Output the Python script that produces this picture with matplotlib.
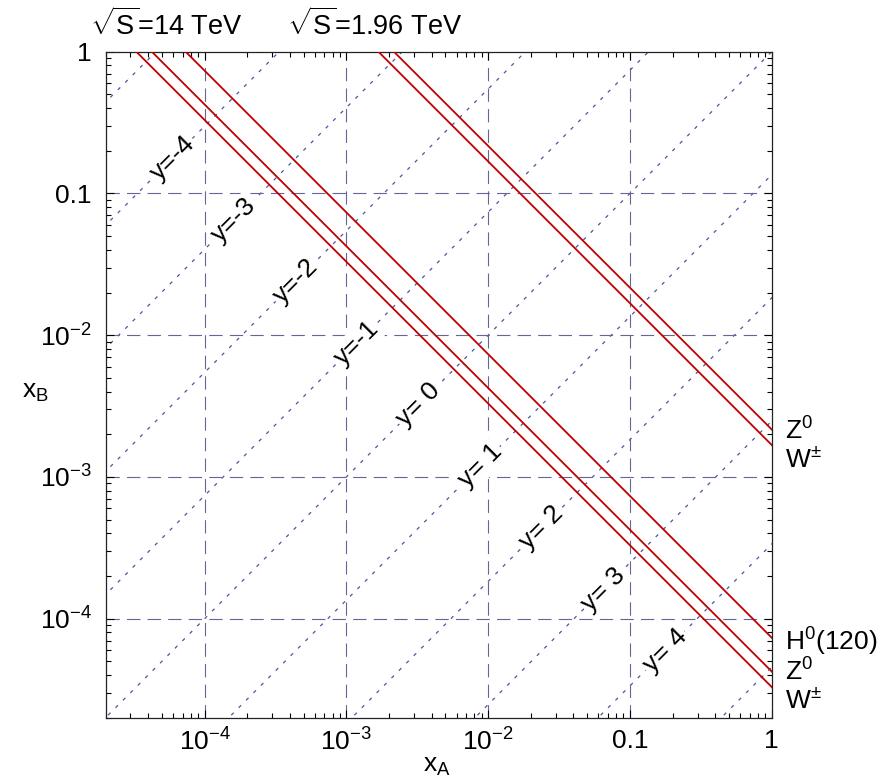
import numpy as np
import matplotlib.pyplot as plt
from matplotlib.ticker import FixedLocator, FixedFormatter, LogLocator, NullFormatter

plt.rcParams['font.family'] = ['Liberation Sans', 'DejaVu Sans']
plt.rcParams['mathtext.fontset'] = 'custom'
plt.rcParams['mathtext.rm'] = 'Liberation Sans'
plt.rcParams['mathtext.it'] = 'Liberation Sans:italic'
plt.rcParams['mathtext.bf'] = 'Liberation Sans:bold'

# collider energies (TeV) and boson masses (GeV)
lhc_sqrt_s = 14.0
tev_sqrt_s = 1.96
m_w = 80.4
m_z = 91.19
m_h = 120.0

# lines of constant rapidity y, x_A / x_B = exp(2y)
rapidities = np.arange(-6, 7)
labelled_y = [-4, -3, -2, -1, 0, 1, 2, 3, 4]
label_tau = 1.05e-5   # labels sit along x_A * x_B = label_tau

x_lo, x_hi = 2e-5, 1.0
grid_at = [1e-4, 1e-3, 1e-2, 1e-1]
tick_vals = [1e-4, 1e-3, 1e-2, 0.1, 1]
tick_text = ['$10^{-4}$', '$10^{-3}$', '$10^{-2}$', '0.1', '1']

red = '#c00000'
grid_col = '#65659a'
dot_col = '#5252a0'
fs = 19

fig = plt.figure(figsize=(8.92, 7.81), dpi=100)
ax = fig.add_axes([0.1183, 0.0810, 0.7468, 0.8528])
ax.set_xscale('log')
ax.set_yscale('log')
ax.set_xlim(x_lo, x_hi)
ax.set_ylim(x_lo, x_hi)

xa = np.array([1e-7, 10.0])
for y in rapidities:
    ax.plot(xa, xa * np.exp(-2.0 * y), color=dot_col, lw=0.9,
            ls=(0, (2.8, 5.6)), zorder=1)

for g in grid_at:
    ax.axvline(g, color=grid_col, lw=0.8, ls=(0, (12, 6.5)), zorder=1)
    ax.axhline(g, color=grid_col, lw=0.8, ls=(0, (12, 6.5)), zorder=1)

# x_A x_B = M^2 / S
def tau(m, rs):
    return (m / (rs * 1000.0)) ** 2

for m, rs in [(m_w, lhc_sqrt_s), (m_z, lhc_sqrt_s), (m_h, lhc_sqrt_s),
              (m_w, tev_sqrt_s), (m_z, tev_sqrt_s)]:
    ax.plot(xa, tau(m, rs) / xa, color=red, lw=1.3, zorder=3)

for y in labelled_y:
    xl = np.sqrt(label_tau) * np.exp(y)
    yl = np.sqrt(label_tau) * np.exp(-y)
    s = f'y={y}' if y < 0 else f'y= {y}'
    ax.text(xl, yl, s, rotation=45, rotation_mode='anchor', ha='center',
            va='center', fontsize=fs, zorder=2,
            bbox=dict(fc='white', ec='none', pad=1.5))

# boson labels at the right edge
def side_label(text, t, dy):
    ax.annotate(text, xy=(1.0, t), xycoords=('axes fraction', 'data'),
                xytext=(9.5, dy), textcoords='offset points', ha='left',
                va='baseline', fontsize=fs, annotation_clip=False)

side_label('H$^0$(120)', tau(m_h, lhc_sqrt_s), -9)
side_label('Z$^0$', tau(m_z, lhc_sqrt_s), -6.5)
side_label('W$^{\\pm}$', tau(m_z, lhc_sqrt_s), -26)
side_label('Z$^0$', tau(m_z, tev_sqrt_s), -7.5)
side_label('W$^{\\pm}$', tau(m_z, tev_sqrt_s), -27)

ax.text(-0.024, 1.025, r'$\sqrt{\mathrm{S}}$=14 TeV', transform=ax.transAxes,
        ha='left', va='baseline', fontsize=fs + 0.5)
ax.text(0.273, 1.025, r'$\sqrt{\mathrm{S}}$=1.96 TeV', transform=ax.transAxes,
        ha='left', va='baseline', fontsize=fs + 0.5)

fig.text(437 / 892, 1 - 766 / 781, r'$\mathrm{x}_\mathrm{A}$', ha='center',
         va='center', fontsize=fs)
fig.text(35 / 892, 1 - 392 / 781, r'$\mathrm{x}_\mathrm{B}$', ha='center',
         va='center', fontsize=fs)

for axis in (ax.xaxis, ax.yaxis):
    axis.set_major_locator(FixedLocator(tick_vals))
    axis.set_major_formatter(FixedFormatter(tick_text))
    axis.set_minor_locator(LogLocator(base=10, subs=np.arange(2, 10)))
    axis.set_minor_formatter(NullFormatter())

ax.tick_params(which='both', direction='in', top=True, right=True,
               labelsize=fs, width=0.8)
ax.tick_params(which='major', length=6)
ax.tick_params(which='minor', length=3.5)
ax.tick_params(axis='y', pad=10)
ax.tick_params(axis='x', pad=8)
for sp in ax.spines.values():
    sp.set_linewidth(0.9)
    sp.set_color('#222222')

fig.savefig('out.png', dpi=100)
